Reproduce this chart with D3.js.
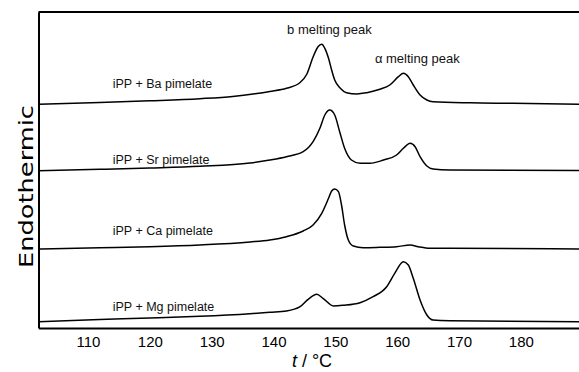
<!DOCTYPE html>
<html>
<head>
<meta charset="utf-8">
<script src="https://cdn.jsdelivr.net/npm/d3@7"></script>
<style>
  body { margin: 0; background: #fff; }
  svg { display: block; font-family: "Liberation Sans", Arial, sans-serif; }
</style>
</head>
<body>
<svg id="chart" width="579" height="372"></svg>
<script>
// DSC melting curves (t in °C, heat flow in arbitrary units, curves offset)
const baT = [102, 111.9, 120, 128.1, 133.4, 137, 139.4, 142.1, 144.3, 145.4, 146.4, 147.2, 147.8, 148.3, 148.9, 149.4, 149.9, 150.8, 151.8, 153.5, 155.1, 157.2, 158.8, 160.2, 161, 161.8, 162.6, 163.7, 164.8, 165.8, 171.8, 178.7, 189.4];
const baV = [223.7, 225.5, 227.2, 229.3, 231.5, 234.2, 236.5, 239.7, 245.5, 254, 271, 281.3, 283.7, 279.7, 269.7, 258, 248, 239.7, 235.3, 234, 235.3, 238.7, 243, 251.3, 254.7, 251.3, 243, 233, 228, 226.3, 225.2, 224.7, 223.7];

const srT = [102, 111.9, 120, 128.1, 136.2, 139.4, 142.1, 144.8, 146.4, 147.5, 148.3, 149.1, 149.9, 150.7, 151.5, 152.6, 154, 155.6, 157.8, 159.9, 161, 162.1, 162.9, 163.7, 164.8, 165.8, 168.5, 189.4];
const srV = [157.3, 158.7, 160, 161.7, 165, 168, 171.3, 176.3, 186.3, 199.7, 213, 218, 213, 196.3, 179.7, 168, 164.7, 164.7, 168, 173, 179.7, 184.7, 181.3, 171.3, 162, 159, 158, 157.5];

const caT = [102, 111.9, 120, 128.1, 136.2, 139.4, 142.1, 144.8, 146.4, 147.8, 148.9, 149.4, 149.9, 150.5, 151, 151.5, 152.1, 152.9, 154.5, 157.2, 159.9, 162.1, 163.4, 165.3, 168.5, 189.4];
const caV = [79, 80.3, 81.3, 83, 86, 88, 91.3, 97, 103, 114.7, 129.7, 137, 139, 136.3, 123, 103, 88, 82, 80.3, 80.7, 81.3, 83, 81.3, 79.7, 79.7, 79];

const mgT = [102, 111.9, 120, 128.1, 136.2, 139.4, 142.1, 144.3, 145.6, 147, 148, 149.7, 151.3, 154, 156.1, 158.3, 159.6, 161, 161.8, 162.6, 163.7, 164.8, 165.8, 168.5, 189.4];
const mgV = [6.3, 8.5, 10, 11.7, 14.3, 15.7, 17, 21.3, 28.7, 33.7, 29.7, 22, 22.7, 25.3, 31.3, 41.3, 54.7, 66.3, 63, 49.7, 28, 13, 8, 7.3, 6.3];

const sampleNames = ["iPP + Ba pimelate", "iPP + Sr pimelate", "iPP + Ca pimelate", "iPP + Mg pimelate"];
const sampleLabelV = [240, 164, 93, 17];
const sampleLabelT = 114;

const peakNames = ["b melting peak", "\u03b1 melting peak"];
const peakLabelT = [142.2, 156.4];
const peakLabelV = [294, 264.7];

const tickValues = [110, 120, 130, 140, 150, 160, 170, 180];

const svg = d3.select("#chart");

var x = d3.scaleLinear()
    .domain([102, 189.4])
    .range([38.5, 579]);
var y = d3.scaleLinear()
    .domain([0, 316])
    .range([328, 12]);

// frame: left, top, bottom
svg.append("line")
    .attr("x1", x.range()[0]).attr("x2", x.range()[1])
    .attr("y1", y.range()[1]).attr("y2", y.range()[1])
    .attr("stroke", "#000").attr("stroke-width", 2);

svg.append("g")
    .attr("transform", `translate(${x.range()[0]},0)`)
    .call(d3.axisLeft(y).tickValues([]).tickSizeOuter(0))
    .call(g => g.select(".domain").attr("stroke-width", 2));

const xAxis = svg.append("g")
    .attr("transform", `translate(0,${y.range()[0]})`)
    .call(d3.axisBottom(x).tickValues(tickValues).tickSize(0).tickSizeOuter(0).tickPadding(8));
xAxis.select(".domain").attr("stroke-width", 2.2);
xAxis.selectAll("text")
    .attr("font-family", "Liberation Sans, Arial, sans-serif")
    .attr("font-size", 15)
    .attr("fill", "#000");

// curves
const curves = [[baT, baV], [srT, srV], [caT, caV], [mgT, mgV]];
const line = d3.line()
    .x(d => x(d[0]))
    .y(d => y(d[1]))
    .curve(d3.curveMonotoneX);

svg.append("g")
  .selectAll("path")
  .data(curves)
  .enter().append("path")
    .attr("d", c => line(d3.zip(c[0], c[1])))
    .attr("fill", "none")
    .attr("stroke", "#000")
    .attr("stroke-width", 1.5)
    .attr("stroke-linejoin", "round");

// sample labels
svg.append("g")
  .selectAll("text")
  .data(sampleNames)
  .enter().append("text")
    .attr("x", x(sampleLabelT))
    .attr("y", (d, i) => y(sampleLabelV[i]))
    .attr("font-size", 12.5)
    .attr("fill", "#111")
    .text(d => d);

// peak labels
svg.append("g")
  .selectAll("text")
  .data(peakNames)
  .enter().append("text")
    .attr("x", (d, i) => x(peakLabelT[i]))
    .attr("y", (d, i) => y(peakLabelV[i]))
    .attr("font-size", 13)
    .attr("fill", "#111")
    .text(d => d);

// axis titles
const xt = svg.append("text")
    .attr("x", 312)
    .attr("y", 367)
    .attr("text-anchor", "middle")
    .attr("font-size", 18)
    .attr("fill", "#000");
xt.append("tspan").attr("font-style", "italic").text("t");
xt.append("tspan").text(" / \u00b0C");

svg.append("text")
    .attr("transform", "translate(33,186.5) rotate(-90)")
    .attr("text-anchor", "middle")
    .attr("font-family", "DejaVu Sans, sans-serif")
    .attr("font-size", 20)
    .attr("textLength", 163)
    .attr("lengthAdjust", "spacingAndGlyphs")
    .attr("fill", "#000")
    .text("Endothermic");
</script>
</body>
</html>
